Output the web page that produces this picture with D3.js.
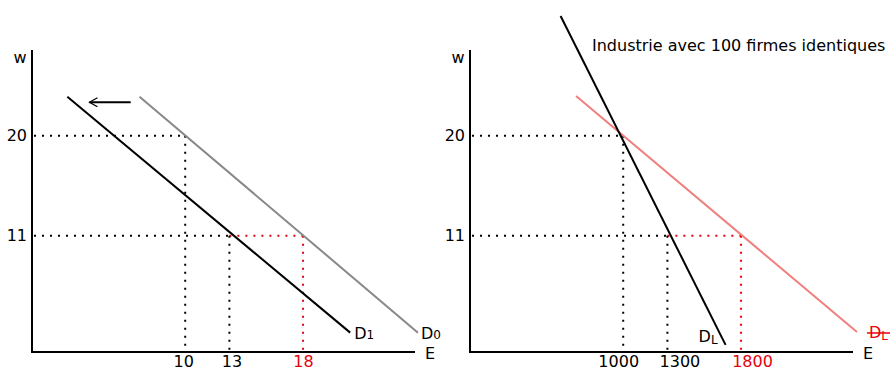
<!DOCTYPE html>
<html>
<head>
<meta charset="utf-8">
<script src="https://cdn.jsdelivr.net/npm/d3@7"></script>
<style>
  body { margin: 0; background: #fff; }
  svg { display: block; font-family: "DejaVu Sans", sans-serif; }
</style>
</head>
<body>
<div id="chart"></div>
<script>
"use strict";

// ---- data (E, w) ----
var wTicks = [20, 11];

var leftETicks = [10, 13, 18];
var leftRedTick = 18;
var d0Line = [[6.9, 23.5], [25.8, 2.3]];
var d1Line = [[2.0, 23.5], [21.2, 2.3]];
var shiftArrow = [[6.3, 23.0], [3.5, 23.0]];
var leftH = [
  { w: 20, from: null, to: 10, red: false },
  { w: 11, from: null, to: 13, red: false },
  { w: 11, from: 13, to: 18, red: true }
];
var leftV = [
  { e: 10, w: 20, red: false },
  { e: 13, w: 11, red: false },
  { e: 18, w: 11, red: true }
];

var rightETicks = [1000, 1300, 1800];
var rightRedTick = 1800;
var dlLine = [[575, 30.75], [1695, 1.2]];
var dlRedLine = [[680, 23.56], [2587, 2.36]];
var rightH = [
  { w: 20, from: null, to: 1000, red: false },
  { w: 11, from: null, to: 1300, red: false },
  { w: 11, from: 1300, to: 1800, red: true }
];
var rightV = [
  { e: 1000, w: 20, red: false },
  { e: 1300, w: 11, red: false },
  { e: 1800, w: 11, red: true }
];

var title = "Industrie avec 100 firmes identiques";

// ---- drawing ----
var RED = "#e8000b";
var FS = 16;
// small horizontal nudges of the tick labels (the sketch isn't to scale)
var leftLabelDx = [-2, 2, 0];
var rightLabelDx = [-5, 12, 11];

var svg = d3.select("#chart").append("svg")
  .attr("width", 890).attr("height", 370);

svg.append("defs").append("marker")
  .attr("id", "head")
  .attr("viewBox", "0 0 10 10")
  .attr("refX", 9).attr("refY", 5)
  .attr("markerWidth", 5).attr("markerHeight", 5)
  .attr("markerUnits", "strokeWidth")
  .attr("orient", "auto")
  .append("path")
  .attr("d", "M1,0.5 L9,5 L1,9.5")
  .attr("fill", "none").attr("stroke", "black").attr("stroke-width", 1.2);

var y = d3.scaleLinear().domain([0.56, 27.7]).range([352, 50]);

function line(x) {
  return d3.line().x(function (d) { return x(d[0]); }).y(function (d) { return y(d[1]); });
}

function panel(x, cfg) {
  var g = svg.append("g");
  var x0 = x.range()[0], x1 = x.range()[1];
  var lf = line(x);

  // dotted guides
  g.selectAll(".h").data(cfg.h).enter().append("line")
    .attr("x1", function (d) { return d.from == null ? x0 + 2 : x(d.from); })
    .attr("x2", function (d) { return x(d.to); })
    .attr("y1", function (d) { return y(d.w); })
    .attr("y2", function (d) { return y(d.w); })
    .attr("stroke", function (d) { return d.red ? RED : "black"; })
    .attr("stroke-width", 2).attr("stroke-dasharray", "2,6");

  g.selectAll(".v").data(cfg.v).enter().append("line")
    .attr("x1", function (d) { return x(d.e); })
    .attr("x2", function (d) { return x(d.e); })
    .attr("y1", function (d) { return y(d.w); })
    .attr("y2", y.range()[0] - 2)
    .attr("stroke", function (d) { return d.red ? RED : "black"; })
    .attr("stroke-width", 2).attr("stroke-dasharray", "2,6");

  // curves
  cfg.curves.forEach(function (c) {
    g.append("path").attr("d", lf(c.pts))
      .attr("fill", "none").attr("stroke", c.color).attr("stroke-width", 2);
  });

  // axes
  var ax = g.append("g").attr("transform", "translate(0," + y.range()[0] + ")")
    .call(d3.axisBottom(x).tickValues(cfg.eTicks).tickSize(0).tickPadding(4)
      .tickFormat(d3.format("d")));
  ax.select(".domain").remove();
  ax.selectAll("text").attr("font-size", FS).attr("font-family", "DejaVu Sans")
    .attr("dx", function (d, i) { return cfg.labelDx[i]; })
    .attr("fill", function (d) { return d === cfg.redTick ? RED : "black"; });

  var ay = g.append("g").attr("transform", "translate(" + x0 + ",0)")
    .call(d3.axisLeft(y).tickValues(wTicks).tickSize(0).tickPadding(5));
  ay.select(".domain").remove();
  ay.selectAll("text").attr("font-size", FS).attr("font-family", "DejaVu Sans")
    .attr("fill", "black");

  g.append("line").attr("x1", x0).attr("x2", x0)
    .attr("y1", y.range()[1]).attr("y2", y.range()[0] + 1)
    .attr("stroke", "black").attr("stroke-width", 2);
  g.append("line").attr("x1", x0 - 1).attr("x2", x1)
    .attr("y1", y.range()[0]).attr("y2", y.range()[0])
    .attr("stroke", "black").attr("stroke-width", 2);

  g.append("text").attr("x", x0 - 12).attr("y", 63)
    .attr("text-anchor", "middle").attr("font-size", FS).text("w");
  g.append("text").attr("x", x1 + 15).attr("y", 359)
    .attr("text-anchor", "middle").attr("font-size", FS).text("E");
  return g;
}

function dLabel(g, px, py, sub, color, subDy) {
  var t = g.append("text").attr("x", px).attr("y", py)
    .attr("font-size", FS).attr("fill", color);
  t.append("tspan").text("D");
  t.append("tspan").attr("font-size", 12).attr("dy", subDy).text(sub);
  return t;
}

// left panel
var xl = d3.scaleLinear().domain([-0.4, 25.6]).range([32, 415]);
var gl = panel(xl, {
  eTicks: leftETicks, redTick: leftRedTick, h: leftH, v: leftV, labelDx: leftLabelDx,
  curves: [{ pts: d0Line, color: "#888888" }, { pts: d1Line, color: "black" }]
});
gl.append("path").attr("d", line(xl)(shiftArrow))
  .attr("fill", "none").attr("stroke", "black").attr("stroke-width", 2)
  .attr("marker-end", "url(#head)");
dLabel(gl, xl(d1Line[1][0]) + 4, y(d1Line[1][1]) + 6, "1", "black", 0);
dLabel(gl, xl(d0Line[1][0]) + 3, y(d0Line[1][1]) + 6, "0", "black", 0);

// right panel
var xr = d3.scaleLinear().domain([-40, 2560]).range([470, 853]);
var gr = panel(xr, {
  eTicks: rightETicks, redTick: rightRedTick, h: rightH, v: rightV, labelDx: rightLabelDx,
  curves: [{ pts: dlRedLine, color: "#f07f7f" }, { pts: dlLine, color: "black" }]
});
dLabel(gr, xr(dlLine[1][0]) - 27, y(dlLine[1][1]) - 3, "L", "black", 2);
var rx = xr(dlRedLine[1][0]) + 12, ry = y(dlRedLine[1][1]) + 6;
dLabel(gr, rx, ry, "L", RED, 2);
gr.append("line").attr("x1", rx - 2).attr("x2", rx + 22)
  .attr("y1", ry - 5).attr("y2", ry - 5)
  .attr("stroke", RED).attr("stroke-width", 1.5);

svg.append("text").attr("x", 592).attr("y", 51)
  .attr("font-size", FS).attr("fill", "black").text(title);
</script>
</body>
</html>
